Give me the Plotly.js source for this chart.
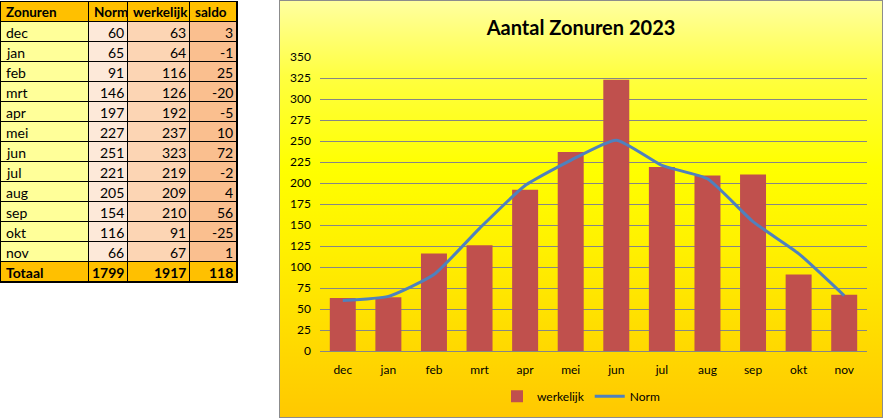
<!DOCTYPE html>
<html>
<head>
<meta charset="utf-8">
<script src="https://cdn.plot.ly/plotly-3.0.1.min.js"></script>
<style>
  body { margin: 0; background: #fff; }
  #tabel { position: absolute; left: 0; top: 0; width: 238px; height: 284px; }
  #grafiek {
    position: absolute; left: 279px; top: 0; width: 602px; height: 416px;
    border: 1px solid #8c8c8c;
    background: linear-gradient(to bottom, #ffffa0 0%, #ffff40 18%, #ffff00 40%, #fff000 60%, #ffc800 100%);
  }
</style>
</head>
<body>
<div id="tabel"></div>
<div id="grafiek"></div>
<script>
// maanden en zonuren
var maanden = ["dec", "jan", "feb", "mrt", "apr", "mei", "jun", "jul", "aug", "sep", "okt", "nov"];
var norm = [60, 65, 91, 146, 197, 227, 251, 221, 205, 154, 116, 66];
var werkelijk = [63, 64, 116, 126, 192, 237, 323, 219, 209, 210, 91, 67];
var saldo = [3, -1, 25, -20, -5, 10, 72, -2, 4, 56, -25, 1];
var totalen = ["Totaal", 1799, 1917, 118];
var koppen = ["Zonuren", "Norm", "werkelijk", "saldo"];

var fontNaam = "Lato, 'Liberation Sans', sans-serif";

// ---- tabel links: heatmap als celvulling, annotaties als tekst ----
var randen = [0, 88, 127, 189, 236];   // kolomgrenzen in px
var uitlijning = ["left", "right", "right", "right"];
var kolommen = [maanden, norm, werkelijk, saldo];
var aantalRijen = maanden.length + 2;

// kleurindex per cel: 0 = oranje (kop/totaal), 1..4 = kolomkleur
var z = [];
for (var r = 0; r < aantalRijen; r++) {
  var rij = [];
  for (var c = 0; c < 4; c++) {
    rij.push(r === 0 || r === aantalRijen - 1 ? 0 : c + 1);
  }
  z.push(rij);
}
var rijRanden = [];
for (var r = 0; r <= aantalRijen; r++) rijRanden.push(r);

var cellen = {
  type: "heatmap",
  x: randen,
  y: rijRanden,
  z: z,
  zmin: 0, zmax: 4,
  colorscale: [[0, "#ffc000"], [0.25, "#ffff99"], [0.5, "#fde9d9"], [0.75, "#fcd5b4"], [1, "#fabf8f"]],
  showscale: false,
  xgap: 1, ygap: 1,
  hoverinfo: "skip"
};

var teksten = [];
for (var r = 0; r < aantalRijen; r++) {
  for (var c = 0; c < 4; c++) {
    var t;
    if (r === 0) t = "<b>" + koppen[c] + "</b>";
    else if (r === aantalRijen - 1) t = "<b>" + totalen[c] + "</b>";
    else t = String(kolommen[c][r - 1]);
    var links = r === 0 || uitlijning[c] === "left";
    teksten.push({
      text: t,
      x: links ? randen[c] + 3 : randen[c + 1] - 2,
      y: r + 0.5,
      xanchor: links ? "left" : "right",
      yanchor: "middle",
      showarrow: false,
      font: { family: fontNaam, size: r === 0 ? 13.5 : 14, color: "#000" }
    });
  }
}

Plotly.newPlot("tabel", [cellen], {
  width: 238, height: 284,
  margin: { l: 1, r: 1, t: 2, b: 2 },
  paper_bgcolor: "rgba(0,0,0,0)",
  plot_bgcolor: "#000",
  xaxis: { range: [0, 236], visible: true, showgrid: false, zeroline: false, showticklabels: false, ticks: "",
           showline: true, linecolor: "#000", linewidth: 1, mirror: true },
  yaxis: { range: [aantalRijen, 0], showgrid: false, zeroline: false, showticklabels: false, ticks: "",
           showline: true, linecolor: "#000", linewidth: 1, mirror: true },
  annotations: teksten
}, { displayModeBar: false, staticPlot: true });

// ---- grafiek rechts ----
var staven = {
  type: "bar",
  name: "werkelijk",
  x: maanden,
  y: werkelijk,
  marker: { color: "#c0504d" }
};
var lijn = {
  type: "scatter",
  mode: "lines",
  name: "Norm",
  x: maanden,
  y: norm,
  line: { color: "#4f81bd", width: 3, shape: "spline", smoothing: 0.5 }
};

var layout = {
  width: 602, height: 416,
  margin: { l: 40, r: 15, t: 56, b: 66 },
  paper_bgcolor: "rgba(0,0,0,0)",
  plot_bgcolor: "rgba(0,0,0,0)",
  font: { family: fontNaam, size: 12, color: "#000" },
  title: {
    text: "<b>Aantal Zonuren 2023</b>",
    font: { family: fontNaam, size: 20, color: "#000" },
    x: 0.5, xref: "container", xanchor: "center",
    y: 0.935, yref: "container", yanchor: "middle"
  },
  bargap: 0.43,
  showlegend: true,
  legend: {
    orientation: "h",
    x: 0.5, xref: "container", xanchor: "center",
    y: 0.05, yref: "container", yanchor: "middle",
    font: { size: 12 },
    bgcolor: "rgba(0,0,0,0)"
  },
  xaxis: {
    type: "category",
    showgrid: false,
    showline: true, linecolor: "#868686", linewidth: 1,
    ticks: "", ticklabelstandoff: 8,
    tickfont: { size: 12 }
  },
  yaxis: {
    range: [0, 350],
    dtick: 25,
    showgrid: true, gridcolor: "#868686", gridwidth: 1,
    zeroline: false, showline: false,
    ticks: "", ticklabelstandoff: 8,
    tickfont: { size: 12 }
  }
};

Plotly.newPlot("grafiek", [staven, lijn], layout, { displayModeBar: false, staticPlot: true });
</script>
</body>
</html>
